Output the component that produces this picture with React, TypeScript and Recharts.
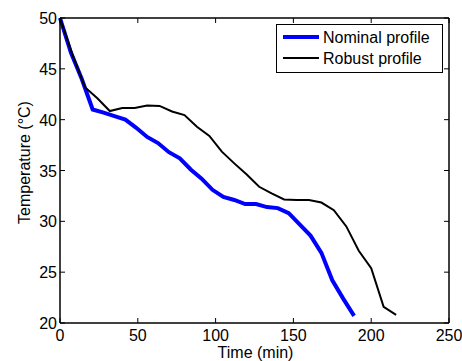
import React from 'react';
import { LineChart, Line, XAxis, YAxis, Legend } from 'recharts';

const FONT = '"Liberation Sans", Arial, Helvetica, sans-serif';

// nominal profile, sampled every 7 min
const nominalTime = [0, 7, 14, 21, 28, 35, 42, 49, 56, 63, 70, 77, 84, 91, 98, 105, 112, 119, 126, 133, 140, 147, 154, 161, 168, 175, 182, 189];
const nominalTemp = [50, 46.6, 44.0, 41.0, 40.7, 40.35, 40.0, 39.2, 38.3, 37.7, 36.8, 36.2, 35.1, 34.2, 33.1, 32.4, 32.1, 31.7, 31.7, 31.4, 31.3, 30.8, 29.7, 28.6, 26.9, 24.2, 22.4, 20.7];

// robust profile, sampled every 8 min
const robustTime = [0, 8, 16, 24, 32, 40, 48, 56, 64, 72, 80, 88, 96, 104, 112, 120, 128, 136, 144, 152, 160, 168, 176, 184, 192, 200, 208, 216];
const robustTemp = [50, 46.4, 43.2, 42.1, 40.85, 41.15, 41.15, 41.4, 41.35, 40.8, 40.45, 39.3, 38.4, 36.85, 35.7, 34.6, 33.4, 32.75, 32.15, 32.1, 32.1, 31.85, 31.1, 29.5, 27.1, 25.4, 21.6, 20.8];

const xTicks = [0, 50, 100, 150, 200, 250];
const yTicks = [20, 25, 30, 35, 40, 45, 50];

const nominalData = nominalTime.map((t, i) => ({ t, temp: nominalTemp[i] }));
const robustData = robustTime.map((t, i) => ({ t, temp: robustTemp[i] }));

const TICK = 5;
const FS = 16;

// matlab style: ticks point into the box
const BottomTick = ({ x, y, payload }: any) => (
  <g>
    <line x1={x} y1={y} x2={x} y2={y - TICK} stroke="#000" strokeWidth={1} />
    <text x={x} y={y + 18} textAnchor="middle" fontSize={FS} fontFamily={FONT} fill="#000">
      {payload.value}
    </text>
  </g>
);

const LeftTick = ({ x, y, payload }: any) => (
  <g>
    <line x1={x} y1={y} x2={x + TICK} y2={y} stroke="#000" strokeWidth={1} />
    <text x={x - 3} y={y + 6} textAnchor="end" fontSize={FS} fontFamily={FONT} fill="#000">
      {payload.value}
    </text>
  </g>
);

const TopTick = ({ x, y }: any) => (
  <line x1={x} y1={y} x2={x} y2={y + TICK} stroke="#000" strokeWidth={1} />
);

const RightTick = ({ x, y }: any) => (
  <line x1={x} y1={y} x2={x - TICK} y2={y} stroke="#000" strokeWidth={1} />
);

const XLabel = ({ viewBox }: any) => (
  <text
    x={viewBox.x + viewBox.width / 2 + 1}
    y={viewBox.y + 35}
    textAnchor="middle"
    fontSize={FS}
    fontFamily={FONT}
    fill="#000"
  >
    Time (min)
  </text>
);

const YLabel = ({ viewBox }: any) => {
  const cx = 30;
  const cy = viewBox.y + viewBox.height / 2 - 8;
  return (
    <text
      transform={`translate(${cx},${cy}) rotate(-90)`}
      textAnchor="middle"
      fontSize={FS}
      fontFamily={FONT}
      fill="#000"
    >
      Temperature (°C)
    </text>
  );
};

const legendItems = [
  { label: 'Nominal profile', color: '#0000ff', w: 4 },
  { label: 'Robust profile', color: '#000000', w: 2 },
];

const LegendBox = () => (
  <svg width={167} height={49} style={{ display: 'block' }}>
    <rect x={0.5} y={0.5} width={166} height={48} fill="#fff" stroke="#000" strokeWidth={1} />
    {legendItems.map((s, i) => (
      <g key={s.label}>
        <line x1={7} x2={43} y1={13 + i * 21} y2={13 + i * 21} stroke={s.color} strokeWidth={s.w} />
        <text x={47} y={19 + i * 21} fontSize={FS} fontFamily={FONT} fill="#000">
          {s.label}
        </text>
      </g>
    ))}
  </svg>
);

export default function App() {
  return (
    <div style={{ position: 'fixed', left: 0, top: 0, width: 462, height: 361, background: '#fff' }}>
      <LineChart width={462} height={361} margin={{ top: 17, right: 12, left: 20, bottom: 8 }}>
        <XAxis
          xAxisId="b"
          dataKey="t"
          type="number"
          domain={[0, 250]}
          ticks={xTicks}
          interval={0}
          height={30}
          tickSize={0}
          tickMargin={0}
          tick={<BottomTick />}
          axisLine={{ stroke: '#000', strokeWidth: 1.5 }}
          label={<XLabel />}
        />
        {/* top and right axes only close the box, as in matlab */}
        <XAxis
          xAxisId="t"
          orientation="top"
          dataKey="t"
          type="number"
          domain={[0, 250]}
          ticks={xTicks}
          interval={0}
          height={1}
          tickSize={0}
          tickMargin={0}
          tick={<TopTick />}
          axisLine={{ stroke: '#000', strokeWidth: 1.5 }}
        />
        <YAxis
          yAxisId="l"
          type="number"
          domain={[20, 50]}
          ticks={yTicks}
          interval={0}
          width={40}
          tickSize={0}
          tickMargin={0}
          tick={<LeftTick />}
          axisLine={{ stroke: '#000', strokeWidth: 1.5 }}
          label={<YLabel />}
        />
        <YAxis
          yAxisId="r"
          orientation="right"
          type="number"
          domain={[20, 50]}
          ticks={yTicks}
          interval={0}
          width={1}
          tickSize={0}
          tickMargin={0}
          tick={<RightTick />}
          axisLine={{ stroke: '#000', strokeWidth: 1.5 }}
        />
        <Legend
          layout="vertical"
          align="center"
          verticalAlign="middle"
          content={<LegendBox />}
          wrapperStyle={{ top: 24, left: 276, width: 167 }}
        />
        <Line
          xAxisId="t"
          yAxisId="r"
          data={robustData}
          dataKey="temp"
          stroke="none"
          dot={false}
          activeDot={false}
          legendType="none"
          isAnimationActive={false}
        />
        <Line
          xAxisId="b"
          yAxisId="l"
          data={nominalData}
          dataKey="temp"
          name="Nominal profile"
          stroke="#0000ff"
          strokeWidth={4}
          dot={false}
          type="linear"
          isAnimationActive={false}
        />
        <Line
          xAxisId="b"
          yAxisId="l"
          data={robustData}
          dataKey="temp"
          name="Robust profile"
          stroke="#000000"
          strokeWidth={2}
          dot={false}
          type="linear"
          isAnimationActive={false}
        />
      </LineChart>
    </div>
  );
}
